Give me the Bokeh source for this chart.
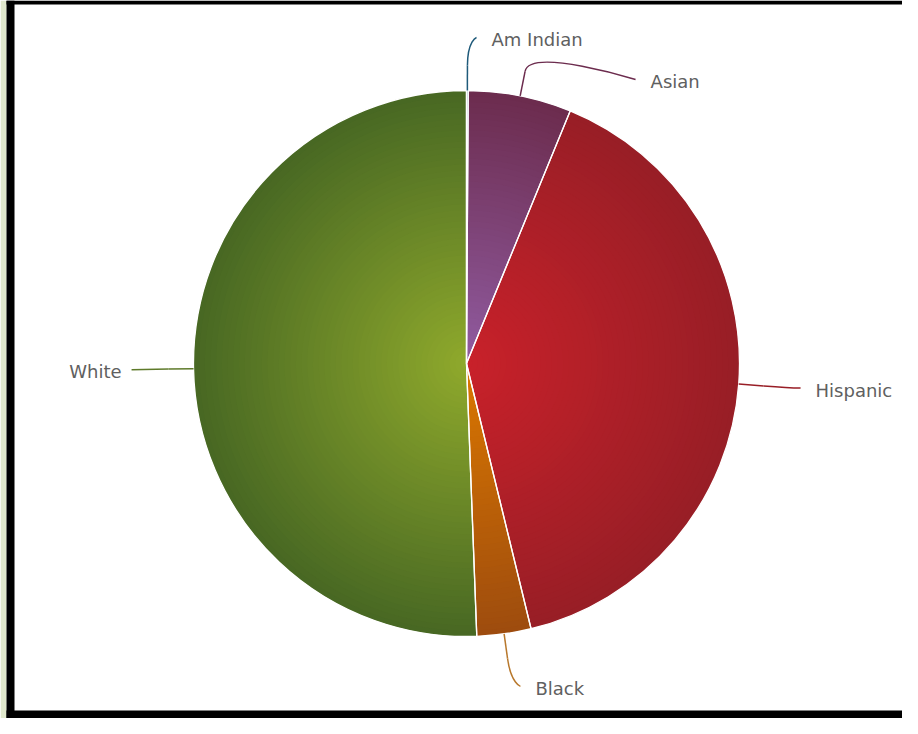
import numpy as np
from bokeh.plotting import figure
from bokeh.models import Range1d, ColumnDataSource
from bokeh.embed import file_html
from bokeh.resources import INLINE
from bokeh.core.properties import value

# ---- data -------------------------------------------------------------
categories = ["Am Indian", "Asian", "Hispanic", "Black", "White"]
shares = [0.1, 6.1, 40.0, 3.2, 50.6]          # percent

# ---- style --------------------------------------------------------------
inner_colors = ["#3d8fc0", "#915ca2", "#c9212a", "#dc7800", "#90aa2c"]
outer_colors = ["#1f5a7a", "#6c2c4e", "#981e26", "#9e4c0e", "#486823"]
line_colors = ["#1f5a7a", "#6c2c4e", "#981e26", "#b8782c", "#5e7a2a"]

W, H = 902, 718
CX, CY = 466.0, H - 363.0
R = 273.0
LABEL_DIST = 53.0
BREAK_DIST = 25.0
N_STEPS = 48


def hex_to_rgb(h):
    h = h.lstrip("#")
    return np.array([int(h[i:i + 2], 16) for i in (0, 2, 4)], dtype=float)


def mix(c0, c1, t):
    a, b = hex_to_rgb(c0), hex_to_rgb(c1)
    c = a + (b - a) * t
    return "#%02x%02x%02x" % tuple(int(round(v)) for v in c)


p = figure(width=W, height=H, x_range=Range1d(0, W), y_range=Range1d(0, H),
           output_backend="svg", toolbar_location=None,
           x_axis_location=None, y_axis_location=None, min_border=0)
p.grid.visible = False
p.outline_line_color = None
p.background_fill_color = "white"
p.border_fill_color = "white"

# page decoration: pale strip and black frame
p.quad(left=[0], right=[6], bottom=[0], top=[H], fill_color="#e0e8cc", line_color=None)
p.quad(left=[6, 6, 6], right=[14, W, W], bottom=[0, H - 4, 0], top=[H, H, 8],
       fill_color="black", line_color=None)

# ---- pie with radial shading ------------------------------------------
vals = np.array(shares, dtype=float)
frac = vals / vals.sum()
cum1 = np.cumsum(frac)
cum0 = cum1 - frac
start = np.pi / 2 - 2 * np.pi * cum0
end = np.pi / 2 - 2 * np.pi * cum1

wx, wy, wr, ws, we, wc = [], [], [], [], [], []
for k in range(N_STEPS):
    t = (N_STEPS - k) / N_STEPS
    for i in range(len(categories)):
        wx.append(CX); wy.append(CY)
        wr.append(R * t)
        ws.append(start[i]); we.append(end[i])
        wc.append(mix(inner_colors[i], outer_colors[i], t))
src = ColumnDataSource(dict(x=wx, y=wy, r=wr, s=ws, e=we, c=wc))
p.wedge(x="x", y="y", radius="r", start_angle="s", end_angle="e",
        direction="clock", fill_color="c", line_color=None, source=src)

p.wedge(x=[CX] * len(categories), y=[CY] * len(categories), radius=R,
        start_angle=start, end_angle=end, direction="clock",
        fill_color=None, line_color="white", line_width=1.3)

# ---- labels and connectors ---------------------------------------------
mid = 2 * np.pi * (cum0 + cum1) / 2
RL = R + LABEL_DIST
sides = np.where(np.sin(mid) >= 0, 1, -1)
ly = CY + RL * np.cos(mid)
shifted = np.zeros(len(categories), dtype=bool)
for side in (1, -1):
    idx = [i for i in range(len(categories)) if sides[i] == side]
    idx.sort(key=lambda i: -ly[i])
    for a, b in zip(idx[:-1], idx[1:]):
        if ly[b] > ly[a] - 42:
            ly[b] = ly[a] - 42
            shifted[b] = True
X = np.where(shifted, np.sqrt(np.maximum(RL ** 2 - (ly - CY) ** 2, 0)),
             RL * np.abs(np.sin(mid)))

base_x = CX + R * np.sin(mid)
base_y = CY + R * np.cos(mid)
brk_x = CX + (R + BREAK_DIST) * np.sin(mid)
brk_y = CY + (R + BREAK_DIST) * np.cos(mid)
ctl_x = 2 * brk_x - base_x
ctl_y = 2 * brk_y - base_y
end_x = CX + sides * (X + 9)

p.bezier(x0=end_x, y0=ly, x1=brk_x, y1=brk_y, cx0=end_x, cy0=ly,
         cx1=ctl_x, cy1=ctl_y, line_color=line_colors, line_width=1.5)
p.segment(x0=brk_x, y0=brk_y, x1=base_x, y1=base_y,
          line_color=line_colors, line_width=1.5)

for side, align, pad in ((1, "left", 24), (-1, "right", 19)):
    idx = [i for i in range(len(categories)) if sides[i] == side]
    p.text(x=[CX + side * (X[i] + pad) for i in idx],
           y=[ly[i] - 2 for i in idx],
           text=[categories[i] for i in idx],
           text_font=value("DejaVu Sans"), text_font_size="18px",
           text_color="#606060", text_align=align, text_baseline="middle")

open("out.html", "w").write(file_html(p, INLINE))
